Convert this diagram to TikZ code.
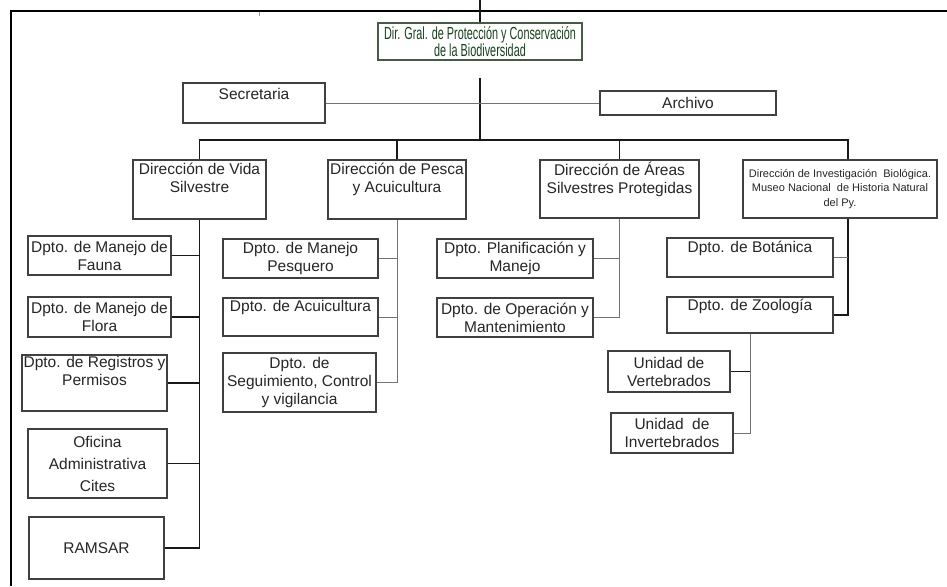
\documentclass[tikz,border=0pt]{standalone}
\usepackage{fontspec}
\setmainfont{Liberation Sans}
\newfontfamily\narrowfont[FakeStretch=0.62]{Liberation Sans}
\definecolor{dgreen}{RGB}{25,65,30}
\definecolor{dgframe}{RGB}{70,90,70}

\tikzset{
  box/.style={draw=black!75, line width=1.1pt, fill=white, inner sep=0pt,
    align=center, text=black!85, font=\fontsize{15.5}{18}\selectfont},
  trunk/.style={draw=black!90, line width=1.4pt},
  branch/.style={draw=black!55, line width=0.9pt}
}

\begin{document}
\begin{tikzpicture}[x=1pt,y=-1pt]
\useasboundingbox (0,0) rectangle (947,586);

% frame
\draw [line width=2pt] (11,586) -- (11,11) -- (947,11);
\draw [black!40, line width=1pt] (259,12) -- (259,16);

% head
\node[box, draw=dgframe, minimum width=204, minimum height=37, text=dgreen,
  font=\narrowfont\fontsize{17.5}{17.5}\selectfont] (dg) at (480,41.5)
  {Dir. Gral. de Protección y Conservación\\de la Biodiversidad};
\node[box, minimum width=142, minimum height=40] (sec) at (254,103) {Secretaria\\[-6pt]\strut};
\node[box, minimum width=176, minimum height=24] (arch) at (688,103) {Archivo};

% direcciones
\node[box, minimum width=133, minimum height=59] (vida) at (199.5,189.5) {Dirección de Vida\\Silvestre\\\strut};
\node[box, minimum width=138, minimum height=59] (pesca) at (397,189.5) {Dirección de Pesca\\y Acuicultura\\\strut};
\node[box, minimum width=159, minimum height=58] (areas) at (619.5,189) {Dirección de Áreas\\Silvestres Protegidas\\\strut};
\node[box, minimum width=194, minimum height=58, font=\fontsize{11}{14.5}\selectfont] (inv) at (840,189)
  {Dirección de Investigación\ \ Biológica.\\Museo Nacional\ \ de Historia Natural\\del Py.};

% Vida Silvestre
\node[box, minimum width=143, minimum height=39] (fauna) at (99.5,255.5) {Dpto. de Manejo de\\Fauna};
\node[box, minimum width=143, minimum height=40] (flora) at (99.5,317) {Dpto. de Manejo de\\Flora};
\node[box, minimum width=145, minimum height=56] (registros) at (94.5,383) {Dpto. de Registros y\\Permisos\\\strut};
\node[box, minimum width=139, minimum height=69, font=\fontsize{15.5}{22}\selectfont] (oficina) at (97.5,463.5) {Oficina\\Administrativa\\Cites};
\node[box, minimum width=135, minimum height=62] (ramsar) at (96.5,548) {RAMSAR};

% Pesca
\node[box, minimum width=155, minimum height=39] (pesquero) at (300.5,258.5) {Dpto. de Manejo\\Pesquero};
\node[box, minimum width=155, minimum height=38] (acui) at (300.5,317) {Dpto. de Acuicultura\\[-2pt]\strut};
\node[box, minimum width=153, minimum height=59] (segui) at (299.5,382.5) {Dpto. de\\Seguimiento, Control\\y vigilancia};

% Areas
\node[box, minimum width=156, minimum height=39] (plan) at (515,258.5) {Dpto. Planificación y\\Manejo};
\node[box, minimum width=156, minimum height=39] (oper) at (515,317.5) {Dpto. de Operación y\\Mantenimiento};

% Investigacion
\node[box, minimum width=166, minimum height=39] (bot) at (750,257.5) {Dpto. de Botánica\\[-2pt]\strut};
\node[box, minimum width=166, minimum height=36] (zoo) at (750,315) {Dpto. de Zoología\\[-2pt]\strut};
\node[box, minimum width=122, minimum height=41] (vert) at (669,371.5) {Unidad de\\Vertebrados};
\node[box, minimum width=122, minimum height=40] (invert) at (672,433) {Unidad\ \ de\\Invertebrados};

% connectors
\coordinate (top) at (480,0);
\coordinate (hub) at (480,78);
\coordinate (bus) at (480,140);
\coordinate (invs) at ([xshift=8]inv.south);
\draw[trunk] (top) -- (dg.north);
\draw[trunk] (hub) -- (bus);
\draw[branch] (sec) -- (arch);
\draw[trunk] (vida.north) |- (bus) -| ([xshift=8]inv.north);
\draw[trunk] (pesca.north) -- (pesca.north |- bus);
\draw[trunk] (areas.north) -- (areas.north |- bus);

\draw[trunk] (vida.south) |- (ramsar.east);
\foreach \n in {fauna,flora,registros,oficina}
  \draw[trunk] (\n.east) -- (\n.east -| vida.south);

\draw[branch] (pesca.south) |- (segui.east);
\foreach \n in {pesquero,acui}
  \draw[branch] (\n.east) -- (\n.east -| pesca.south);

\draw[branch] (areas.south) |- (oper.east);
\draw[branch] (plan.east) -- (plan.east -| areas.south);

\draw[trunk] (invs) |- (zoo.east);
\draw[branch] (bot.east) -- (bot.east -| invs);
\draw[branch] (zoo.south) |- (invert.east);
\draw[trunk] (vert.east) -- (vert.east -| zoo.south);

\end{tikzpicture}
\end{document}
